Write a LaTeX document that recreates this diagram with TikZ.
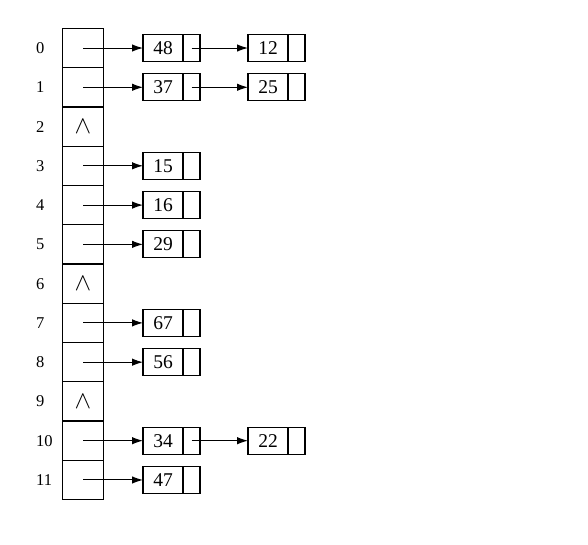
\documentclass[tikz,border=0pt]{standalone}
\usepackage{fontspec}
\setmainfont{Liberation Serif}
\usetikzlibrary{arrows.meta}
\begin{document}
\begin{tikzpicture}[x=1pt,y=-1pt,
  cell/.style={draw,line width=1.3pt,minimum width=41pt,minimum height=39.27pt,inner sep=0pt,outer sep=0pt},
  idx/.style={anchor=west,inner sep=0pt,font=\fontsize{16.5}{16.5}\selectfont},
  dat/.style={draw,line width=1.2pt,minimum width=40pt,minimum height=27pt,inner sep=0pt,outer sep=0pt,font=\fontsize{19.5}{19.5}\selectfont},
  ptr/.style={draw,line width=1.2pt,minimum width=17pt,minimum height=27pt,inner sep=0pt,outer sep=0pt,anchor=west},
  arr/.style={line width=1pt,-{Latex[length=11pt,width=7.5pt]}},
  nul/.style={font=\fontsize{26}{26}\selectfont}]
\useasboundingbox (0,0) rectangle (588,544);
\foreach \i in {0,...,11}{
  \node[cell] (c\i) at (83,{48+39.27*\i}) {};
  \node[idx] (l\i) at (36,{48+39.27*\i}) {\i};
}
\foreach \i in {2,6,9}{
  \node[nul] (n\i) at (c\i.center) {$\wedge$};
}
% first-level nodes
\foreach \i/\v in {0/48,1/37,3/15,4/16,5/29,7/67,8/56,10/34,11/47}{
  \node[dat] (a\i) at (163,{48+39.27*\i}) {\v};
  \node[ptr] (p\i) at (a\i.east) {};
  \draw[arr] (c\i.center) -- (a\i.west);
}
% second-level nodes
\foreach \i/\v in {0/12,1/25,10/22}{
  \node[dat] (b\i) at (268,{48+39.27*\i}) {\v};
  \node[ptr] (q\i) at (b\i.east) {};
  \draw[arr] (p\i.center) -- (b\i.west);
}
\end{tikzpicture}
\end{document}
